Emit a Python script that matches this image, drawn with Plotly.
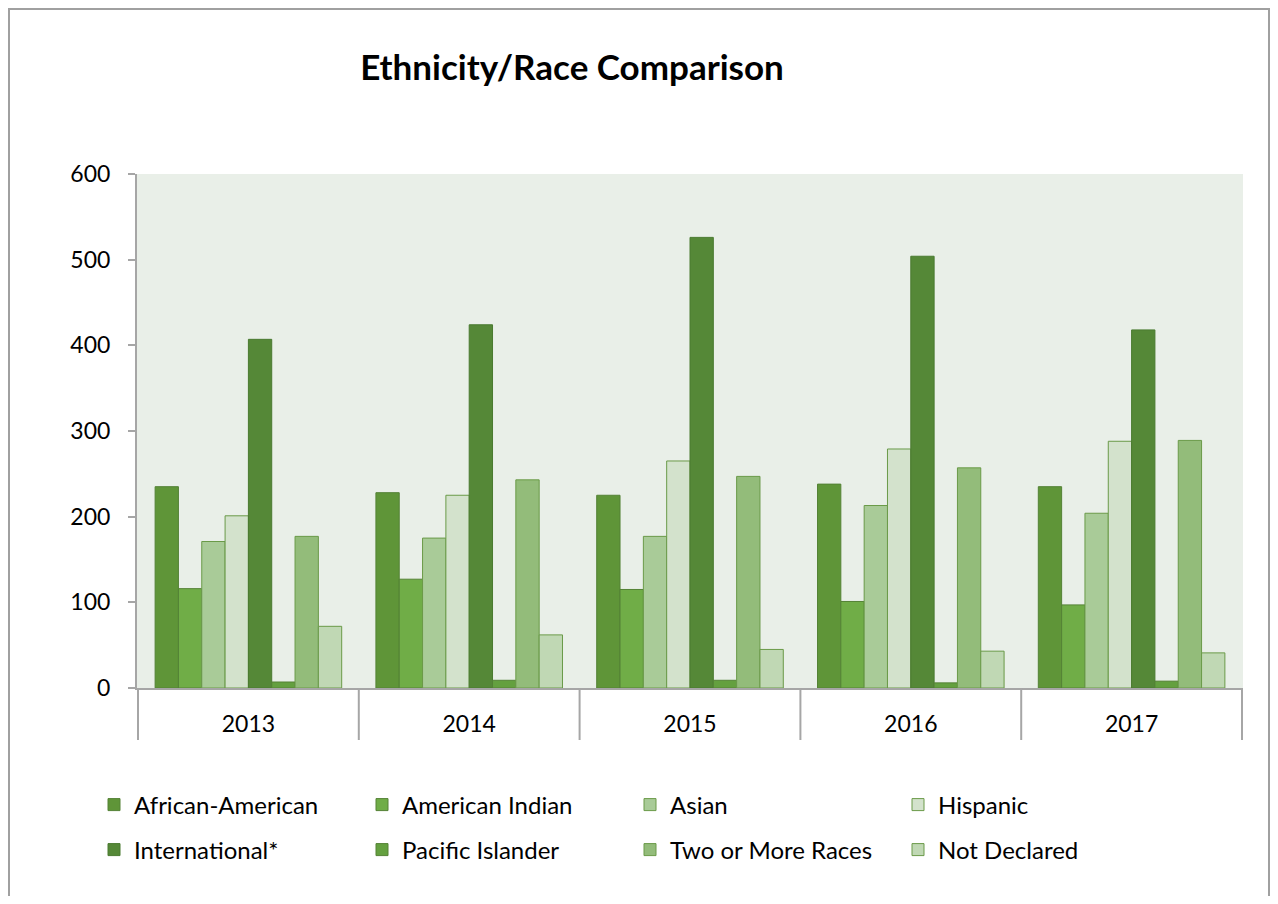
import plotly.graph_objects as go

years = ["2013", "2014", "2015", "2016", "2017"]
series_names = ["African-American", "American Indian", "Asian", "Hispanic",
                "International*", "Pacific Islander", "Two or More Races", "Not Declared"]
african_american = [235, 228, 225, 238, 235]
american_indian = [116, 127, 115, 101, 97]
asian = [171, 175, 177, 213, 204]
hispanic = [201, 225, 265, 279, 288]
international = [407, 424, 526, 504, 418]
pacific_islander = [7, 9, 9, 6, 8]
two_or_more = [177, 243, 247, 257, 289]
not_declared = [72, 62, 45, 43, 41]

values = [african_american, american_indian, asian, hispanic,
          international, pacific_islander, two_or_more, not_declared]
fills = ["#5f9538", "#70ad47", "#a9cb98", "#d3e2cc",
         "#558837", "#64a03f", "#93bc7a", "#c0d8b4"]
borders = ["#548235", "#548235", "#6a9a48", "#6a9a48",
           "#4a7a30", "#548235", "#6a9a48", "#6a9a48"]

FONT = "Lato"
fig = go.Figure()
for i, (name, vals) in enumerate(zip(series_names, values)):
    fig.add_trace(go.Bar(
        x=years, y=vals, name=name,
        marker=dict(color=fills[i], line=dict(color=borders[i], width=1)),
        legend="legend" if i < 4 else "legend2",
    ))

OFF = 8  # page body margin
W, H = 1278 - 2 * OFF, 904 - 2 * OFF
L, R, T, B = 137 - OFF, 1243 - OFF, 174 - OFF, 688 - OFF
pw, ph = R - L, B - T

leg_x = (94 - OFF - L) / pw
fig.update_layout(
    width=W, height=H,
    margin=dict(l=L, r=W - R, t=T, b=H - B),
    paper_bgcolor="white",
    plot_bgcolor="#e9efe8",
    barmode="group",
    bargap=0.155,
    bargroupgap=0,
    font=dict(family=FONT, size=23, color="black"),
    title=dict(text="<b>Ethnicity/Race Comparison</b>", x=(572 - OFF) / W, xanchor="center",
               y=1 - (68 - OFF) / H, yanchor="middle", font=dict(family=FONT, size=35, color="black")),
    legend=dict(orientation="h", x=leg_x, xanchor="left",
                y=(B - (805 - OFF)) / ph, yanchor="middle", entrywidth=223, entrywidthmode="pixels",
                font=dict(family=FONT, size=24), traceorder="normal", bgcolor="rgba(0,0,0,0)"),
    legend2=dict(orientation="h", x=leg_x, xanchor="left",
                 y=(B - (850 - OFF)) / ph, yanchor="middle", entrywidth=223, entrywidthmode="pixels",
                 font=dict(family=FONT, size=24), traceorder="normal", bgcolor="rgba(0,0,0,0)"),
    xaxis=dict(type="category", showgrid=False, showline=True, linecolor="#a6a6a6", linewidth=2,
               ticks="", ticklabelstandoff=14, tickfont=dict(family=FONT, size=23)),
    yaxis=dict(range=[0, 600], dtick=100, showgrid=False, zeroline=False, showline=True,
               linecolor="#a6a6a6", linewidth=2, ticks="outside", ticklen=7, tickcolor="#a6a6a6",
               tickwidth=2, ticklabelstandoff=13, tickfont=dict(family=FONT, size=23)),
)

# category dividers below the x axis
for k in range(len(years) + 1):
    fig.add_shape(type="line", xref="x", yref="paper", x0=k - 0.5, x1=k - 0.5,
                  y0=0, y1=-52 / ph, line=dict(color="#a6a6a6", width=2))

# outer chart border (bottom edge falls outside the picture, as in the original)
fig.add_shape(type="rect", xref="paper", yref="paper",
              x0=(1 - L) / pw, x1=(W - 1 - L) / pw, y0=(B - H - 30) / ph, y1=(B - 1) / ph,
              line=dict(color="#a0a0a0", width=2), fillcolor="rgba(0,0,0,0)", layer="below")

fig.write_html("out.html")
